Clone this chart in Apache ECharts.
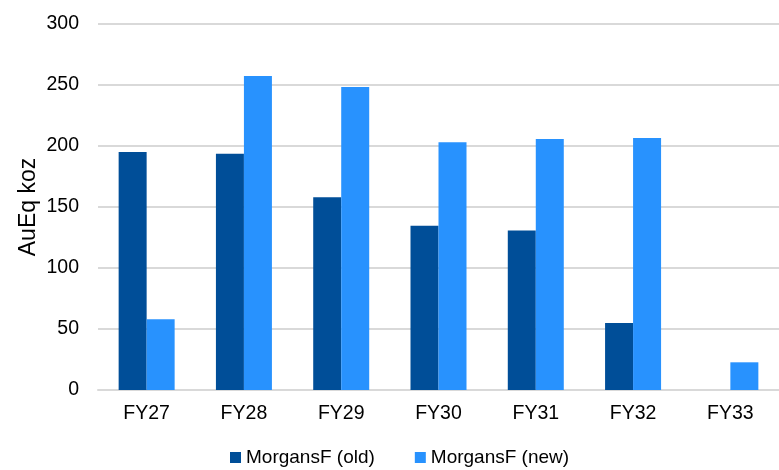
<!DOCTYPE html>
<html>
<head>
<meta charset="utf-8">
<script src="https://cdn.jsdelivr.net/npm/echarts@6/dist/echarts.min.js"></script>
<style>
  html, body { margin: 0; padding: 0; background: #fff; }
  #chart { width: 779px; height: 470px; }
</style>
</head>
<body>
<div id="chart"></div>
<script>
// Fiscal years along the x axis
const categories = ['FY27', 'FY28', 'FY29', 'FY30', 'FY31', 'FY32', 'FY33'];
// Gold-equivalent production (koz), previous and revised forecasts
const oldValues = [195, 193.6, 158, 134.6, 130.8, 55, null];
const newValues = [58, 257.3, 248.3, 203, 205.7, 206.5, 22.7];
const seriesNames = ['MorgansF (old)', 'MorgansF (new)'];

const font = 'Liberation Sans, Arial, sans-serif';
const chart = echarts.init(document.getElementById('chart'), null, { renderer: 'canvas' });

chart.setOption({
  animation: false,
  grid: { left: 98, right: 0, top: 24, bottom: 80 },
  legend: {
    top: 443,
    left: 225,
    itemWidth: 11,
    itemHeight: 11,
    itemGap: 40,
    icon: 'rect',
    textStyle: { fontFamily: font, fontSize: 19, color: '#000' },
    data: seriesNames
  },
  xAxis: {
    type: 'category',
    data: categories,
    axisLine: { lineStyle: { color: '#d9d9d9', width: 2 } },
    axisTick: { show: false },
    axisLabel: { fontFamily: font, fontSize: 19.5, color: '#000', margin: 14 }
  },
  yAxis: {
    type: 'value',
    min: 0,
    max: 300,
    interval: 50,
    name: 'AuEq koz',
    nameLocation: 'middle',
    nameGap: 58,
    nameMoveOverlap: false,
    nameTextStyle: { fontFamily: font, fontSize: 23, color: '#000' },
    axisLine: { show: false },
    axisTick: { show: false },
    axisLabel: { fontFamily: font, fontSize: 19.5, color: '#000', margin: 19 },
    splitLine: { lineStyle: { color: '#d9d9d9', width: 2 } }
  },
  series: [
    {
      name: seriesNames[0],
      type: 'bar',
      data: oldValues,
      barWidth: 28,
      barGap: '0%',
      itemStyle: { color: '#004E98' }
    },
    {
      name: seriesNames[1],
      type: 'bar',
      data: newValues,
      barWidth: 28,
      barGap: '0%',
      itemStyle: { color: '#2892FE' }
    }
  ]
});
</script>
</body>
</html>
